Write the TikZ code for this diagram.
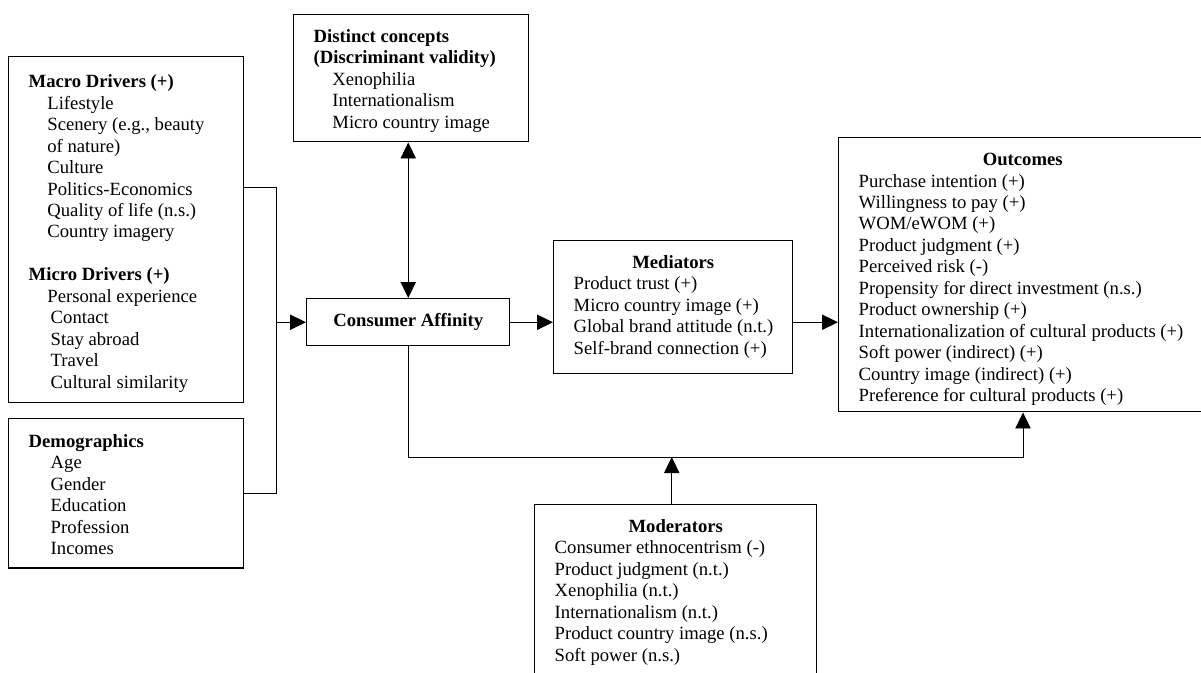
\documentclass[tikz,border=0pt]{standalone}
\usepackage{fontspec}
\setmainfont{Liberation Serif}
\usetikzlibrary{arrows.meta}

\tikzset{
  box/.style={draw, line width=1.1pt, anchor=north west, inner sep=0pt, font=\fontsize{14}{16.1}\selectfont},
  link/.style={line width=0.65pt},
  arr/.style={link, -{Triangle[length=12pt,width=11.5pt]}},
  arrs/.style={link, {Triangle[length=12pt,width=11.5pt]}-{Triangle[length=12pt,width=11.5pt]}}
}
% width, height, top gap, lines
\newcommand{\panel}[4]{\parbox[c][#2][t]{#1}{\vspace*{#3}\raggedright\leftskip=15pt\parskip=0pt #4}}
\newcommand{\ptitle}[1]{{\centering\bfseries #1\par}}

\begin{document}
\begin{tikzpicture}[x=0.75pt,y=0.75pt,yscale=-1,xscale=1]
\useasboundingbox (0,0) rectangle (1201,672);

% Box: drivers
\node[box] (macro) at (8,56) {\panel{176.25pt}{259.5pt}{13.5pt}{%
  \textbf{Macro Drivers (+)}\\
  \hspace*{14pt}Lifestyle\\
  \hspace*{14pt}Scenery (e.g., beauty\\
  \hspace*{14pt}of nature)\\
  \hspace*{14pt}Culture\\
  \hspace*{14pt}Politics-Economics\\
  \hspace*{14pt}Quality of life (n.s.)\\
  \hspace*{14pt}Country imagery\\[16.1pt]
  \textbf{Micro Drivers (+)}\\
  \hspace*{14pt}Personal experience\\
  \hspace*{16.5pt}Contact\\
  \hspace*{16.5pt}Stay abroad\\
  \hspace*{16.5pt}Travel\\
  \hspace*{16.5pt}Cultural similarity}};
% Box: demographics
\node[box] (demo) at (8,418) {\panel{176.25pt}{112pt}{11.6pt}{%
  \textbf{Demographics}\\
  \hspace*{16.5pt}Age\\
  \hspace*{16.5pt}Gender\\
  \hspace*{16.5pt}Education\\
  \hspace*{16.5pt}Profession\\
  \hspace*{16.5pt}Incomes}};
% Box: distinct concepts
\node[box] (dist) at (293,14) {\panel{176.25pt}{95.25pt}{11pt}{%
  \textbf{Distinct concepts}\\
  \textbf{(Discriminant validity)}\\
  \hspace*{14pt}Xenophilia\\
  \hspace*{14pt}Internationalism\\
  \hspace*{14pt}Micro country image}};
% Box: consumer affinity
\node[box, minimum width=152.25pt, minimum height=35.25pt, font=\fontsize{14}{16.1}\selectfont\bfseries] (ca) at (306,298) {Consumer Affinity};
% Box: mediators
\node[box] (med) at (553,240) {\panel{179.25pt}{99.75pt}{11pt}{%
  \ptitle{Mediators}
  Product trust (+)\\
  Micro country image (+)\\
  Global brand attitude (n.t.)\\
  Self-brand connection (+)}};
% Box: outcomes
\node[box] (out) at (838,137) {\panel{276pt}{205.5pt}{11.6pt}{%
  \ptitle{Outcomes}
  Purchase intention (+)\\
  Willingness to pay (+)\\
  WOM/eWOM (+)\\
  Product judgment (+)\\
  Perceived risk (-)\\
  Propensity for direct investment (n.s.)\\
  Product ownership (+)\\
  \mbox{Internationalization of cultural products (+)}\\
  Soft power (indirect) (+)\\
  Country image (indirect) (+)\\
  Preference for cultural products (+)}};
% Box: moderators
\node[box] (mod) at (534,504) {\panel{211.5pt}{127.5pt}{11pt}{%
  \ptitle{Moderators}
  Consumer ethnocentrism (-)\\
  Product judgment (n.t.)\\
  Xenophilia (n.t.)\\
  Internationalism (n.t.)\\
  Product country image (n.s.)\\
  Soft power (n.s.)}};

%Straight Lines
\coordinate (jtop) at (276,187);
\coordinate (jbot) at (276,493);
\coordinate (rail) at (1023,457);
\draw[link] (macro.east |- jtop) -- (jtop) -- (jbot) -- (demo.east |- jbot);
\draw[arr] (jtop |- ca.west) -- (ca.west);
\draw[arrs] (ca.north) -- (ca.north |- dist.south);
\draw[arr] (ca.east) -- (ca.east -| med.west);
\draw[arr] (ca.east -| med.east) -- (ca.east -| out.west);
\draw[arr] (ca.south) |- (rail) -- (rail |- out.south);
\draw[arr] ([xshift=-3pt]mod.north) -- ([xshift=-3pt]mod.north |- rail);

\end{tikzpicture}
\end{document}
